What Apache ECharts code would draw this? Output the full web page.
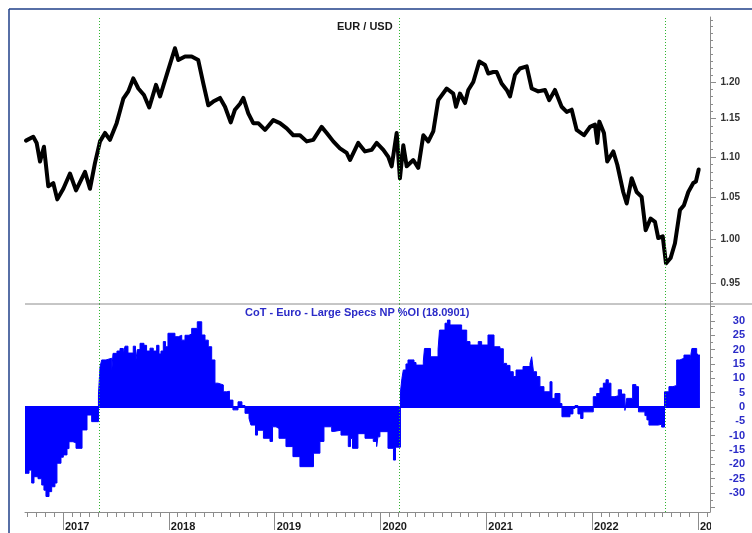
<!DOCTYPE html>
<html>
<head>
<meta charset="utf-8">
<title>EUR / USD - CoT</title>
<script src="https://cdn.jsdelivr.net/npm/echarts@6.0.0/dist/echarts.min.js"></script>
<style>
  html, body { margin: 0; padding: 0; background: #fff; }
  #chart { width: 752px; height: 533px; }
</style>
</head>
<body>
<div id="chart"></div>
<script>
// EUR/USD weekly close, [decimal year, price]
const eurUsd = [
  [2016.650, 1.121], [2016.719, 1.126], [2016.751, 1.118], [2016.783, 1.094], [2016.820, 1.113],
  [2016.861, 1.063], [2016.908, 1.067], [2016.946, 1.047], [2017.003, 1.060], [2017.066, 1.079],
  [2017.123, 1.058], [2017.208, 1.081], [2017.255, 1.060], [2017.302, 1.092], [2017.350, 1.120],
  [2017.397, 1.131], [2017.444, 1.122], [2017.507, 1.144], [2017.570, 1.177], [2017.617, 1.187],
  [2017.664, 1.205], [2017.712, 1.191], [2017.765, 1.182], [2017.815, 1.165], [2017.879, 1.196],
  [2017.917, 1.180], [2017.980, 1.210], [2018.058, 1.248], [2018.090, 1.231], [2018.153, 1.236],
  [2018.216, 1.236], [2018.278, 1.231], [2018.326, 1.198], [2018.373, 1.168], [2018.420, 1.173],
  [2018.484, 1.178], [2018.531, 1.166], [2018.585, 1.145], [2018.625, 1.162], [2018.673, 1.170],
  [2018.704, 1.178], [2018.751, 1.157], [2018.798, 1.144], [2018.845, 1.144], [2018.909, 1.135],
  [2018.987, 1.148], [2019.050, 1.144], [2019.114, 1.137], [2019.176, 1.128], [2019.239, 1.128],
  [2019.303, 1.120], [2019.365, 1.122], [2019.444, 1.139], [2019.492, 1.131], [2019.554, 1.120],
  [2019.617, 1.111], [2019.681, 1.105], [2019.712, 1.096], [2019.790, 1.118], [2019.854, 1.107],
  [2019.917, 1.109], [2019.964, 1.118], [2020.027, 1.109], [2020.074, 1.100], [2020.106, 1.088],
  [2020.153, 1.131], [2020.184, 1.073], [2020.216, 1.115], [2020.248, 1.088], [2020.310, 1.096],
  [2020.357, 1.086], [2020.405, 1.128], [2020.452, 1.120], [2020.499, 1.133], [2020.546, 1.175],
  [2020.626, 1.191], [2020.688, 1.184], [2020.714, 1.166], [2020.751, 1.184], [2020.799, 1.171],
  [2020.830, 1.189], [2020.877, 1.200], [2020.934, 1.229], [2020.988, 1.224], [2021.019, 1.212],
  [2021.066, 1.214], [2021.098, 1.214], [2021.145, 1.198], [2021.193, 1.189], [2021.224, 1.180],
  [2021.271, 1.210], [2021.318, 1.219], [2021.382, 1.222], [2021.429, 1.191], [2021.491, 1.187],
  [2021.555, 1.189], [2021.595, 1.175], [2021.649, 1.189], [2021.712, 1.166], [2021.760, 1.159],
  [2021.807, 1.162], [2021.854, 1.135], [2021.923, 1.128], [2021.980, 1.139], [2022.027, 1.142],
  [2022.049, 1.118], [2022.068, 1.146], [2022.112, 1.131], [2022.143, 1.094], [2022.200, 1.107],
  [2022.238, 1.090], [2022.294, 1.056], [2022.327, 1.042], [2022.374, 1.073], [2022.421, 1.056],
  [2022.468, 1.050], [2022.506, 1.010], [2022.553, 1.024], [2022.594, 1.020], [2022.625, 1.001],
  [2022.667, 1.003], [2022.698, 0.972], [2022.742, 0.978], [2022.783, 0.995], [2022.830, 1.034],
  [2022.868, 1.040], [2022.909, 1.056], [2022.956, 1.067], [2022.981, 1.069], [2023.007, 1.084]
];

// CoT Euro large speculators net position % of open interest, [decimal year, value]
const cotNet = [
  [2016.641, -23.1], [2016.679, -22.0], [2016.704, -26.5], [2016.726, -24.3], [2016.764, -25.0],
  [2016.799, -27.2], [2016.820, -29.0], [2016.839, -31.2], [2016.868, -29.5], [2016.893, -27.8],
  [2016.924, -26.5], [2016.943, -19.6], [2016.981, -17.5], [2017.003, -16.7], [2017.038, -14.5],
  [2017.057, -12.1], [2017.094, -12.5], [2017.123, -14.4], [2017.180, -8.0], [2017.227, -2.8],
  [2017.271, -5.1], [2017.335, 4.2], [2017.350, 14.0], [2017.366, 16.4], [2017.406, 17.0],
  [2017.460, 12.3], [2017.473, 18.7], [2017.510, 19.5], [2017.539, 20.4], [2017.570, 18.5],
  [2017.586, 21.2], [2017.614, 18.8], [2017.664, 21.2], [2017.685, 15.2], [2017.702, 20.0],
  [2017.728, 22.2], [2017.765, 21.5], [2017.790, 19.5], [2017.822, 20.5], [2017.853, 19.5],
  [2017.885, 21.5], [2017.907, 18.5], [2017.926, 19.5], [2017.948, 22.8], [2017.969, 21.0],
  [2017.992, 25.7], [2018.058, 24.5], [2018.090, 25.0], [2018.122, 23.3], [2018.153, 25.0],
  [2018.191, 25.5], [2018.216, 27.4], [2018.269, 29.7], [2018.311, 25.1], [2018.342, 23.3],
  [2018.373, 21.0], [2018.405, 16.4], [2018.436, 8.3], [2018.465, 7.7], [2018.515, 5.3],
  [2018.547, 5.5], [2018.573, 2.4], [2018.606, -1.0], [2018.654, 1.8], [2018.691, 0.5],
  [2018.720, -2.2], [2018.758, -4.0], [2018.776, -6.3], [2018.819, -9.8], [2018.838, -8.1],
  [2018.894, -10.9], [2018.956, -12.0], [2018.980, -6.9], [2019.013, -7.5], [2019.041, -10.9],
  [2019.107, -13.8], [2019.173, -17.3], [2019.239, -20.8], [2019.367, -16.1], [2019.428, -12.0],
  [2019.466, -6.9], [2019.539, -8.5], [2019.561, -8.1], [2019.627, -9.8], [2019.696, -13.8],
  [2019.717, -11.0], [2019.736, -14.4], [2019.787, -9.3], [2019.854, -10.9], [2019.932, -12.0],
  [2019.964, -13.8], [2019.976, -10.4], [2019.995, -8.6], [2020.071, -14.4], [2020.123, -18.5],
  [2020.142, -14.0], [2020.189, 5.3], [2020.203, 10.0], [2020.216, 12.9], [2020.241, 15.0],
  [2020.260, 16.4], [2020.317, 15.5], [2020.336, 14.6], [2020.405, 16.0], [2020.416, 20.4],
  [2020.473, 17.5], [2020.544, 20.0], [2020.558, 26.8], [2020.610, 29.2], [2020.633, 30.3],
  [2020.657, 28.6], [2020.767, 26.8], [2020.815, 22.8], [2020.846, 21.6], [2020.924, 22.8],
  [2020.956, 21.6], [2021.016, 25.1], [2021.073, 21.0], [2021.129, 20.3], [2021.161, 15.2],
  [2021.192, 14.5], [2021.224, 12.3], [2021.255, 10.6], [2021.281, 12.9], [2021.347, 14.1],
  [2021.413, 15.2], [2021.429, 17.5], [2021.446, 12.3], [2021.475, 10.6], [2021.507, 7.1],
  [2021.545, 5.3], [2021.602, 8.8], [2021.621, 3.0], [2021.649, 4.7], [2021.696, 1.2],
  [2021.715, -3.4], [2021.791, -2.4], [2021.819, -0.5], [2021.838, 0.5], [2021.866, -2.4],
  [2021.892, -4.0], [2021.914, -1.7], [2022.011, 3.6], [2022.043, 4.7], [2022.074, 6.6],
  [2022.106, 8.3], [2022.131, 9.5], [2022.153, 8.3], [2022.178, 3.6], [2022.216, 3.9],
  [2022.247, 6.0], [2022.278, 4.5], [2022.310, -1.2], [2022.326, 3.0], [2022.383, 7.8],
  [2022.414, 7.1], [2022.438, -1.7], [2022.499, -3.0], [2022.518, -4.5], [2022.537, -6.3],
  [2022.625, -6.0], [2022.657, -7.0], [2022.684, 5.3], [2022.726, 7.1], [2022.764, 7.5],
  [2022.799, 16.4], [2022.830, 17.0], [2022.868, 18.1], [2022.925, 16.4], [2022.943, 20.4],
  [2022.988, 18.8], [2023.000, 18.1], [2023.019, 18.1]
];

// dates where the CoT crosses zero (green dotted lines)
const signalDates = [2017.340, 2020.184, 2022.688];

const priceTicks = [0.95, 1.00, 1.05, 1.10, 1.15, 1.20];
const cotTicks = [-30, -25, -20, -15, -10, -5, 0, 5, 10, 15, 20, 25, 30];
const yearTicks = [2017, 2018, 2019, 2020, 2021, 2022, 2023];

const X_MIN = 2016.641, X_MAX = 2023.114;
const P_MIN = Math.log(0.9271), P_MAX = Math.log(1.2942);
const C_MIN = -36.6, C_MAX = 35.9;

// secondary tick positions
const priceMinor = [];
for (let c = 93; c <= 129; c++) priceMinor.push(Math.log(c / 100));
const cotMajor = [];
for (let v = -35; v <= 35; v += 5) cotMajor.push(v);
const cotMinor = [];
for (let v = -35; v <= 35; v += 2.5) cotMinor.push(v);
const monthTicks = [];
for (let y = 2016; y <= 2023; y++) {
  for (let m = 0; m < 12; m++) {
    const v = y + m / 12;
    if (v >= X_MIN && v <= X_MAX) monthTicks.push(v);
  }
}

const FONT = '"Liberation Sans", Arial, sans-serif';
const AXIS_GREY = '#8c8c8c';
const SIGNAL_GREEN = '#2fb52f';
const COT_BLUE = '#0000ff';
const LABEL_BLUE = '#2b2bc8';

function signalLines() {
  return {
    silent: true,
    symbol: ['none', 'none'],
    label: { show: false },
    lineStyle: { color: SIGNAL_GREEN, type: [1, 2], width: 1, opacity: 1 },
    emphasis: { disabled: true },
    animation: false,
    data: signalDates.map(d => ({ xAxis: d, lineStyle: { color: SIGNAL_GREEN } }))
  };
}

const chart = echarts.init(document.getElementById('chart'));

const option = {
  animation: false,
  backgroundColor: '#fff',
  title: [
    {
      text: 'EUR / USD', left: 337, top: 21, padding: 0,
      textStyle: { fontFamily: FONT, fontSize: 11, fontWeight: 'bold', color: '#1a1a1a' }
    },
    {
      text: 'CoT - Euro - Large Specs NP %OI (18.0901)', left: 245, top: 307, padding: 0,
      textStyle: { fontFamily: FONT, fontSize: 11, fontWeight: 'bold', color: LABEL_BLUE }
    }
  ],
  grid: [
    { left: 25, right: 42, top: 17, height: 287 },
    { left: 25, right: 42, top: 304, height: 208 }
  ],
  xAxis: [
    { gridIndex: 0, type: 'value', min: X_MIN, max: X_MAX, show: false },
    {
      gridIndex: 1, type: 'value', min: X_MIN, max: X_MAX, position: 'bottom',
      axisLine: { show: true, onZero: false, lineStyle: { color: AXIS_GREY, width: 1 } },
      axisTick: { show: true, customValues: yearTicks, length: 18, lineStyle: { color: AXIS_GREY } },
      axisLabel: {
        show: true, customValues: yearTicks, align: 'left', margin: 9, padding: [0, 0, 0, 2],
        fontFamily: FONT, fontSize: 11, fontWeight: 'bold', color: '#1a1a1a',
        formatter: v => String(Math.round(v))
      },
      splitLine: { show: false }
    },
    {
      gridIndex: 1, type: 'value', min: X_MIN, max: X_MAX, position: 'bottom',
      axisLine: { show: false, onZero: false },
      axisTick: { show: true, customValues: monthTicks, length: 5, lineStyle: { color: AXIS_GREY } },
      axisLabel: { show: false },
      splitLine: { show: false }
    }
  ],
  yAxis: [
    {
      gridIndex: 0, type: 'value', position: 'right', min: P_MIN, max: P_MAX,
      axisLine: { show: true, onZero: false, lineStyle: { color: AXIS_GREY } },
      axisTick: { show: true, customValues: priceTicks.map(Math.log), length: 6, lineStyle: { color: AXIS_GREY } },
      axisLabel: {
        show: true, customValues: priceTicks.map(Math.log), align: 'right', margin: 30,
        fontFamily: FONT, fontSize: 10, fontWeight: 'bold', color: '#333',
        formatter: v => Math.exp(v).toFixed(2)
      },
      splitLine: { show: false }
    },
    {
      gridIndex: 0, type: 'value', position: 'right', min: P_MIN, max: P_MAX,
      axisLine: { show: false, onZero: false },
      axisTick: { show: true, customValues: priceMinor, length: 3, lineStyle: { color: AXIS_GREY } },
      axisLabel: { show: false },
      splitLine: { show: false }
    },
    {
      gridIndex: 1, type: 'value', position: 'right', min: C_MIN, max: C_MAX,
      axisLine: { show: true, onZero: false, lineStyle: { color: AXIS_GREY } },
      axisTick: { show: true, customValues: cotMajor, length: 5, lineStyle: { color: AXIS_GREY } },
      axisLabel: {
        show: true, customValues: cotTicks, align: 'right', margin: 35,
        fontFamily: FONT, fontSize: 11, fontWeight: 'bold', color: LABEL_BLUE
      },
      splitLine: { show: false }
    },
    {
      gridIndex: 1, type: 'value', position: 'right', min: C_MIN, max: C_MAX,
      axisLine: { show: false, onZero: false },
      axisTick: { show: true, customValues: cotMinor, length: 3, lineStyle: { color: AXIS_GREY } },
      axisLabel: { show: false },
      splitLine: { show: false }
    }
  ],
  series: [
    {
      name: 'EUR / USD', type: 'line', xAxisIndex: 0, yAxisIndex: 0,
      data: eurUsd.map(p => [p[0], Math.log(p[1])]),
      showSymbol: false, symbol: 'none',
      lineStyle: { color: '#000', width: 4, join: 'round', cap: 'round' },
      markLine: signalLines(),
      z: 3
    },
    {
      name: 'CoT', type: 'line', xAxisIndex: 1, yAxisIndex: 2,
      data: cotNet, step: 'end',
      showSymbol: false, symbol: 'none',
      lineStyle: { color: COT_BLUE, width: 1 },
      areaStyle: { color: COT_BLUE, opacity: 1 },
      markLine: {
        silent: true, symbol: ['none', 'none'], label: { show: false }, animation: false,
        lineStyle: { color: COT_BLUE, type: 'solid', width: 2 },
        data: [[{ coord: [cotNet[0][0], 0] }, { coord: [cotNet[cotNet.length - 1][0], 0] }]]
      },
      z: 2
    },
    {
      name: 'signals', type: 'line', xAxisIndex: 1, yAxisIndex: 2, data: [],
      color: SIGNAL_GREEN,
      markLine: signalLines(),
      z: 4
    }
  ],
  graphic: [
    // separator between the two panels
    { type: 'line', shape: { x1: 25, y1: 304, x2: 752, y2: 304 }, style: { stroke: AXIS_GREY, lineWidth: 1 }, z: 10 },
    // frame
    { type: 'line', shape: { x1: 9, y1: 9, x2: 752, y2: 9 }, style: { stroke: '#1f3f88', lineWidth: 1.5 }, z: 10 },
    { type: 'line', shape: { x1: 9, y1: 9, x2: 9, y2: 533 }, style: { stroke: '#1f3f88', lineWidth: 1.5 }, z: 10 },
    // the last year label is cut at the axis
    { type: 'rect', shape: { x: 711, y: 514, width: 41, height: 19 }, style: { fill: '#fff' }, z: 100 }
  ]
};

chart.setOption(option);
</script>
</body>
</html>
